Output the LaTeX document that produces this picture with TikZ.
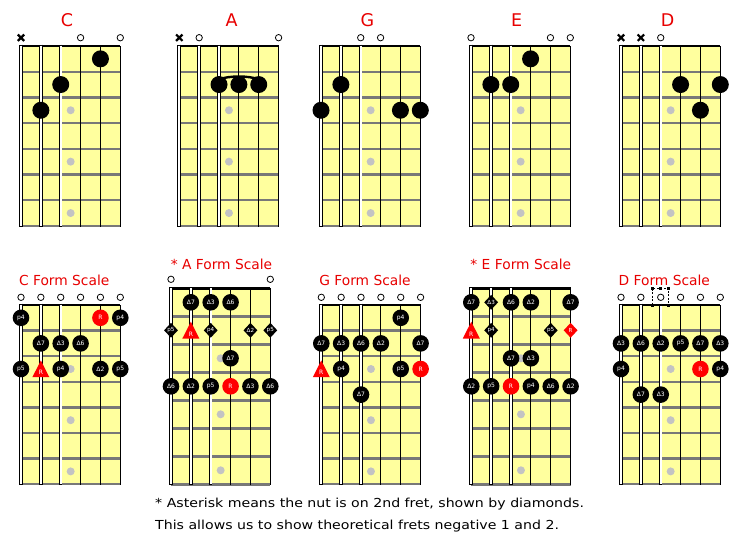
\documentclass[tikz,border=0pt]{standalone}
\usepackage{fontspec}
\setmainfont{DejaVu Sans}
\usetikzlibrary{shapes.geometric}
\definecolor{boardyel}{RGB}{255,255,158}
\definecolor{fretgray}{RGB}{120,120,120}
\definecolor{markgray}{RGB}{195,195,195}
\definecolor{titlered}{RGB}{232,0,0}
\definecolor{rootred}{RGB}{255,0,0}
\newcommand{\strsp}{19.86}
\tikzset{
  fretline/.style={fretgray, line width=2.4pt},
  nutline/.style={black, line width=2.8pt},
  fdot/.style={circle, fill=black, minimum size=17pt, inner sep=0pt},
  sdot/.style={circle, fill=black, minimum size=16.6pt, inner sep=0pt, text=white, font=\fontsize{6}{6}\selectfont},
  sdia/.style={diamond, fill=black, minimum width=14pt, minimum height=15pt, inner sep=0pt, text=white, font=\fontsize{5.6}{5.6}\selectfont},
  openm/.style={circle, draw=black, fill=white, line width=0.8pt, minimum size=6.4pt, inner sep=0pt},
  mutex/.style={black, line width=2.2pt},
  bigtitle/.style={text=titlered, font=\fontsize{17.5}{17.5}\selectfont, anchor=base},
  formtitle/.style={text=titlered, font=\fontsize{13.8}{13.8}\selectfont, anchor=base},
  caption/.style={text=black, font=\fontsize{12.4}{12.4}\selectfont, anchor=base west, inner sep=0pt},
}
% board: #1 name, #2 x of string 1, #3 nut y, #4 fret spacing
\newcommand{\fboard}[4]{%
  \def\Bn{#1}\def\Bx{#2}\def\By{#3}\def\Bs{#4}%
  \fill[boardyel] (#2,#3) rectangle ({#2+5*\strsp},{#3+7*#4});
  \foreach \f in {3,5,7} \fill[markgray] ({#2+2.5*\strsp},{#3+(\f-0.5)*#4}) circle (4);
  \foreach \f in {1,...,7} \draw[fretline] (#2,{#3+\f*#4}) -- ({#2+5*\strsp},{#3+\f*#4});
  \draw[nutline] (#2,#3) -- ({#2+5*\strsp},#3);
  \draw[black, line width=4.2pt] (#2,{#3-1.3}) -- (#2,{#3+7*#4+1});
  \draw[white, line width=2.2pt] (#2,{#3-0.3}) -- (#2,{#3+7*#4});
  \foreach \s in {2,3} {
    \draw[black, line width=3.4pt] ({#2+(\s-1)*\strsp},{#3-1.3}) -- ({#2+(\s-1)*\strsp},{#3+7*#4+1});
    \draw[white, line width=1.6pt] ({#2+(\s-1)*\strsp},{#3-0.3}) -- ({#2+(\s-1)*\strsp},{#3+7*#4});
  }
  \foreach \s in {4,5,6}
    \draw[black, line width=1pt] ({#2+(\s-1)*\strsp},#3) -- ({#2+(\s-1)*\strsp},{#3+7*#4+1});
}
\newcommand{\SX}[1]{{\Bx+(#1-1)*\strsp}}
\newcommand{\FY}[1]{{\By+(#1-0.5)*\Bs}}
\newcommand{\fing}[2]{\node[fdot] (\Bn-#1-#2) at (\SX{#1},\FY{#2}) {};}
\newcommand{\sd}[3]{\node[sdot] (\Bn-#1-#2) at (\SX{#1},\FY{#2}) {#3};}
\newcommand{\rd}[2]{\node[sdot, fill=rootred] (\Bn-#1-#2) at (\SX{#1},\FY{#2}) {R};}
\newcommand{\dm}[3]{\node[sdia] (\Bn-#1-#2) at (\SX{#1},\FY{#2}) {#3};}
\newcommand{\rdm}[2]{\node[sdia, fill=rootred] (\Bn-#1-#2) at (\SX{#1},\FY{#2}) {R};}
\newcommand{\rt}[2]{%
  \pgfmathsetmacro\tx{\Bx+(#1-1)*\strsp}\pgfmathsetmacro\ty{\By+(#2-0.5)*\Bs}%
  \fill[rootred] ({\tx-8.5},{\ty+8.2}) -- (\tx,{\ty-8.6}) -- ({\tx+8.5},{\ty+8.2}) -- cycle;
  \node[text=white, font=\fontsize{6}{6}\selectfont, inner sep=0pt] (\Bn-#1-#2) at (\tx,{\ty+3.6}) {R};}
\newcommand{\om}[2]{\node[openm] (\Bn-o#1) at (\SX{#1},#2) {};}
\newcommand{\mx}[2]{\draw[mutex] ({\Bx+(#1-1)*\strsp-3.2},{#2-3.2}) -- ({\Bx+(#1-1)*\strsp+3.2},{#2+3.2}) ({\Bx+(#1-1)*\strsp-3.2},{#2+3.2}) -- ({\Bx+(#1-1)*\strsp+3.2},{#2-3.2});}
\begin{document}
\begin{tikzpicture}[x=1pt, y=-1pt]
\useasboundingbox[fill=white] (0,0) rectangle (736,544);
% ---------- top row: chords ----------
\node[bigtitle] (tC) at (67,26) {C};
\fboard{C}{21}{46}{25.7}
\mx{1}{37.7}\om{4}{37.7}\om{6}{37.7}
\fing{5}{1}\fing{3}{2}\fing{2}{3}

\node[bigtitle] (tA) at (231.7,26) {A};
\fboard{A}{179.3}{46}{25.7}
\mx{1}{37.7}\om{2}{37.7}\om{6}{37.7}
\fing{3}{2}\fing{4}{2}\fing{5}{2}
\draw[black, line width=2.4pt] (219,79.5) .. controls (228,75.5) and (250,75.5) .. (258.7,79.5);

\node[bigtitle] (tG) at (367.5,26) {G};
\fboard{G}{321}{46}{25.7}
\om{3}{37.7}\om{4}{37.7}
\fing{2}{2}\fing{1}{3}\fing{5}{3}\fing{6}{3}

\node[bigtitle] (tE) at (516.7,26) {E};
\fboard{E}{471}{46}{25.7}
\om{1}{37.7}\om{5}{37.7}\om{6}{37.7}
\fing{4}{1}\fing{2}{2}\fing{3}{2}

\node[bigtitle] (tD) at (667.7,26) {D};
\fboard{D}{621}{46}{25.7}
\mx{1}{37.7}\mx{2}{37.7}\om{3}{37.7}
\fing{4}{2}\fing{6}{2}\fing{5}{3}

% ---------- bottom row: scales ----------
\node[formtitle] (tCF) at (64.2,285.7) {C Form Scale};
\fboard{CF}{21}{305}{25.6}
\foreach \s in {1,...,6} {\om{\s}{297.3}}
\sd{1}{1}{p4}\rd{5}{1}\sd{6}{1}{p4}
\sd{2}{2}{Δ7}\sd{3}{2}{Δ3}\sd{4}{2}{Δ6}
\sd{1}{3}{p5}\rt{2}{3}\sd{3}{3}{p4}\sd{5}{3}{Δ2}\sd{6}{3}{p5}

\node[formtitle] (tAF) at (221.5,269) {* A Form Scale};
\fboard{AF}{171}{288.3}{28}
\om{1}{279.3}\om{6}{279.3}
\sd{2}{1}{Δ7}\sd{3}{1}{Δ3}\sd{4}{1}{Δ6}
\dm{1}{2}{p5}\rt{2}{2}\dm{3}{2}{p4}\dm{5}{2}{Δ2}\dm{6}{2}{p5}
\sd{4}{3}{Δ7}
\sd{1}{4}{Δ6}\sd{2}{4}{Δ2}\sd{3}{4}{p5}\rd{4}{4}\sd{5}{4}{Δ3}\sd{6}{4}{Δ6}

\node[formtitle] (tGF) at (365,285.7) {G Form Scale};
\fboard{GF}{321.3}{305}{25.6}
\foreach \s in {1,...,6} {\om{\s}{297.3}}
\sd{5}{1}{p4}
\sd{1}{2}{Δ7}\sd{2}{2}{Δ3}\sd{3}{2}{Δ6}\sd{4}{2}{Δ2}\sd{6}{2}{Δ7}
\rt{1}{3}\sd{2}{3}{p4}\sd{5}{3}{p5}\rd{6}{3}
\sd{3}{4}{Δ7}

\node[formtitle] (tEF) at (520.8,269) {* E Form Scale};
\fboard{EF}{471.3}{288.3}{28}
\sd{1}{1}{Δ7}\dm{2}{1}{Δ3}\sd{3}{1}{Δ6}\sd{4}{1}{Δ2}\sd{6}{1}{Δ7}
\rt{1}{2}\dm{2}{2}{p4}\dm{5}{2}{p5}\rdm{6}{2}
\sd{3}{3}{Δ7}\sd{4}{3}{Δ3}
\sd{1}{4}{Δ2}\sd{2}{4}{p5}\rd{3}{4}\sd{4}{4}{p4}\sd{5}{4}{Δ6}\sd{6}{4}{Δ2}

\node[formtitle] (tDF) at (664.3,285.7) {D Form Scale};
\fboard{DF}{621}{305}{25.6}
\foreach \s in {1,...,6} {\om{\s}{297.3}}
\draw[black, line width=0.6pt, dash pattern=on 2pt off 1.5pt] (652,288.6) rectangle (668.7,305);
\foreach \hx/\hy in {652/288.6, 660.3/288.6, 668.7/288.6, 652/305, 668.7/305}
  \fill[black] (\hx-1.5,\hy-1.5) rectangle (\hx+1.5,\hy+1.5);
\sd{1}{2}{Δ3}\sd{2}{2}{Δ6}\sd{3}{2}{Δ2}\sd{4}{2}{p5}\sd{5}{2}{Δ7}\sd{6}{2}{Δ3}
\sd{1}{3}{p4}\rd{5}{3}\sd{6}{3}{p4}
\sd{2}{4}{Δ7}\sd{3}{4}{Δ3}

% ---------- caption ----------
\node[caption] (cap1) at (155,507.3) {\scalebox{1.14}[1]{* Asterisk means the nut is on 2nd fret, shown by diamonds.}};
\node[caption] (cap2) at (155,529.3) {\scalebox{1.14}[1]{This allows us to show theoretical frets negative 1 and 2.}};
\end{tikzpicture}
\end{document}
